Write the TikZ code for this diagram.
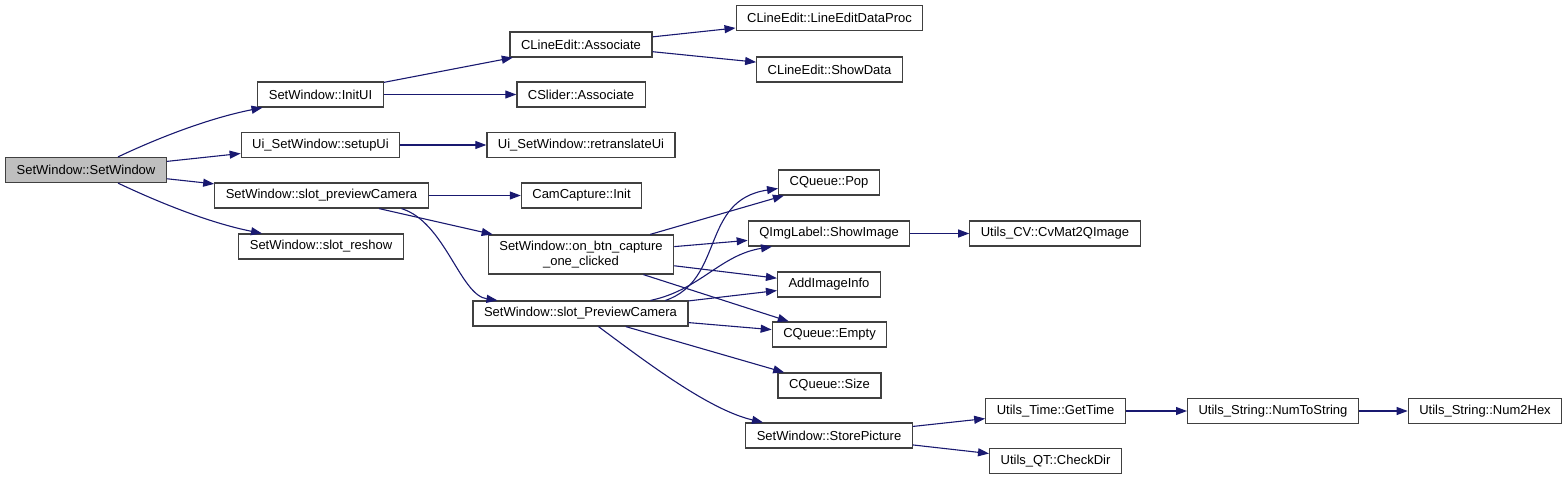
\documentclass[tikz,border=0pt]{standalone}
\usepackage{fontspec}
\setmainfont{Liberation Sans}
\usetikzlibrary{arrows.meta,positioning}

\definecolor{edgeblue}{RGB}{25,25,112}
\definecolor{rootgray}{RGB}{191,191,191}

\begin{document}
\begin{tikzpicture}[x=1pt,y=-1pt,
  fn/.style={draw=black!75,line width=1.2pt,minimum height=25pt,inner xsep=11pt,inner ysep=2pt,
    font=\fontsize{13}{14.5}\selectfont},
  call/.style={draw=edgeblue,line width=1.1pt,-{Triangle[length=11pt,width=8pt]}}]
\useasboundingbox (0,0) rectangle (1568,480);

% callers, left column
\node[fn,fill=rootgray] (root) at (86,170) {SetWindow::SetWindow};
\node[fn] (initui) at (320.5,94.5) {SetWindow::InitUI};
\node[fn] (setupui) at (320.5,145) {Ui\_SetWindow::setupUi};
\node[fn] (prevcam) at (321.5,195.5) {SetWindow::slot\_previewCamera};
\node[fn] (reshow) at (321,246.5) {SetWindow::slot\_reshow};

% second column
\node[fn] (leassoc) at (581,44.5) {CLineEdit::Associate};
\node[fn] (slassoc) at (581,94.5) {CSlider::Associate};
\node[fn] (retrans) at (581,145) {Ui\_SetWindow::retranslateUi};
\node[fn] (caminit) at (581.5,195.5) {CamCapture::Init};
\node[fn,align=center,minimum height=39pt] (capture) at (581,254.5) {SetWindow::on\_btn\_capture\\\_one\_clicked};
\node[fn] (PrevCam) at (580.5,313.5) {SetWindow::slot\_PreviewCamera};

% third column
\node[fn] (dataproc) at (829.5,18) {CLineEdit::LineEditDataProc};
\node[fn] (showdata) at (829.5,69.5) {CLineEdit::ShowData};
\node[fn] (qpop) at (829,182.5) {CQueue::Pop};
\node[fn] (showimg) at (829,233.5) {QImgLabel::ShowImage};
\node[fn] (addinfo) at (829,284.5) {AddImageInfo};
\node[fn] (qempty) at (829.5,334.5) {CQueue::Empty};
\node[fn] (qsize) at (829.5,385.5) {CQueue::Size};
\node[fn] (store) at (829,435.5) {SetWindow::StorePicture};

% right part
\node[fn] (cvmat) at (1055,233.5) {Utils\_CV::CvMat2QImage};
\node[fn] (gettime) at (1055.5,411) {Utils\_Time::GetTime};
\node[fn] (checkdir) at (1055.5,461) {Utils\_QT::CheckDir};
\node[fn] (numstr) at (1273,411) {Utils\_String::NumToString};
\node[fn] (numhex) at (1485,411) {Utils\_String::Num2Hex};

% calls
\draw[call] ([xshift=32pt]root.north) .. controls (160,137) and (210,118) .. ([xshift=-58pt]initui.south);
\draw[call] (root) -- (setupui);
\draw[call] (root) -- (prevcam);
\draw[call] ([xshift=32pt]root.south) .. controls (160,203) and (210,223) .. ([xshift=-59pt]reshow.north);

\draw[call] (initui) -- (leassoc);
\draw[call] (initui) -- (slassoc);
\draw[call] (leassoc) -- (dataproc);
\draw[call] (leassoc) -- (showdata);
\draw[call] (setupui) -- (retrans);
\draw[call] (prevcam) -- (caminit);
\draw[call] (prevcam) -- (capture);
\draw[call] ([xshift=80pt]prevcam.south) .. controls (445,222) and (460,295) .. ([xshift=-83pt]PrevCam.north);

\draw[call] (capture) -- (qpop);
\draw[call] (capture) -- (showimg);
\draw[call] (capture) -- (addinfo);
\draw[call] (capture) -- (qempty);

\draw[call] ([xshift=85pt]PrevCam.north) .. controls (725,280) and (700,200) .. ([yshift=-6pt]qpop.west);
\draw[call] ([xshift=70pt]PrevCam.north) .. controls (700,290) and (720,255) .. ([xshift=-57pt]showimg.south);
\draw[call] (PrevCam) -- (addinfo);
\draw[call] (PrevCam) -- (qempty);
\draw[call] (PrevCam) -- (qsize);
\draw[call] ([xshift=18pt]PrevCam.south) .. controls (650,365) and (710,410) .. ([xshift=-66pt]store.north);

\draw[call] (showimg) -- (cvmat);
\draw[call] (store) -- (gettime);
\draw[call] (store) -- (checkdir);
\draw[call] (gettime) -- (numstr);
\draw[call] (numstr) -- (numhex);
\end{tikzpicture}
\end{document}
